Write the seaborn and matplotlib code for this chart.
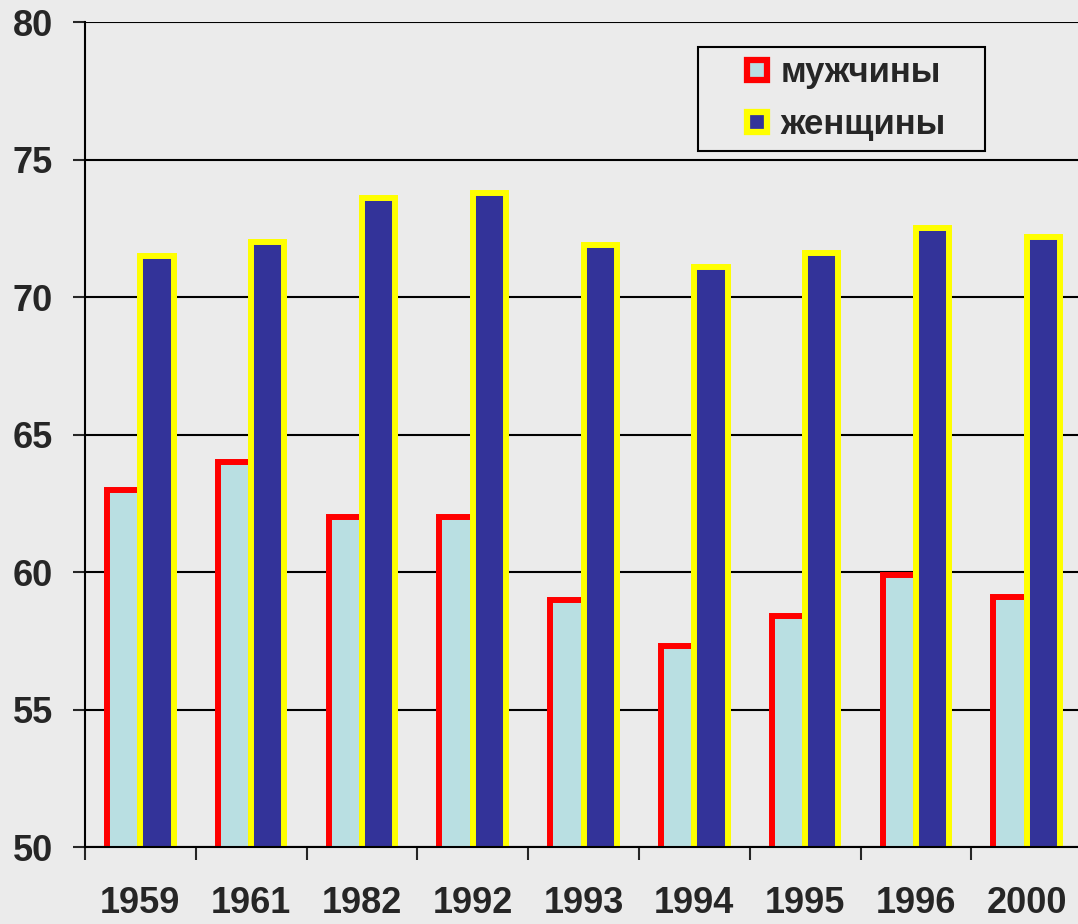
import pandas as pd
import seaborn as sns
import matplotlib.pyplot as plt
from matplotlib.lines import Line2D

# данные: ожидаемая продолжительность жизни
years = ['1959', '1961', '1982', '1992', '1993', '1994', '1995', '1996', '2000']
men = [63.0, 64.0, 62.0, 62.0, 59.0, 57.3, 58.4, 59.9, 59.1]
women = [71.5, 72.0, 73.6, 73.8, 71.9, 71.1, 71.6, 72.5, 72.2]
series_names = ['мужчины', 'женщины']
y_ticks = [50, 55, 60, 65, 70, 75, 80]

MEN_FACE, MEN_EDGE = '#b9dfe2', '#ff0000'
WOMEN_FACE, WOMEN_EDGE = '#333399', '#ffff00'
BG = '#ebebeb'

sns.set_style('white')
plt.rcParams['font.family'] = ['Liberation Sans', 'DejaVu Sans']
plt.rcParams['font.weight'] = 'bold'

df = pd.DataFrame({
    'year': years * 2,
    'sex': [series_names[0]] * len(years) + [series_names[1]] * len(years),
    'value': men + women,
})

fig = plt.figure(figsize=(10.78, 9.24), dpi=100, facecolor=BG)
ax = fig.add_axes([0.0788, 0.0833, 0.925, 0.8926])
ax.set_facecolor(BG)

sns.barplot(data=df, x='year', y='value', hue='sex', hue_order=series_names,
            palette=[MEN_FACE, WOMEN_FACE], saturation=1, width=0.6,
            errorbar=None, legend=False, linewidth=4.3, ax=ax)

for cont, ec in zip(ax.containers, [MEN_EDGE, WOMEN_EDGE]):
    for bar in cont:
        bar.set_edgecolor(ec)

ax.set_ylim(50, 80)
ax.set_xlim(-0.5, len(years) - 0.5)
ax.set_yticks(y_ticks)
ax.set_xlabel('')
ax.set_ylabel('')

ax.set_axisbelow(True)
ax.yaxis.grid(True, color='black', linewidth=1.5)
ax.xaxis.grid(False)

for s in ['top', 'right']:
    ax.spines[s].set_visible(False)
for s in ['left', 'bottom']:
    ax.spines[s].set_color('black')
    ax.spines[s].set_linewidth(1.5)

ax.tick_params(axis='y', direction='out', length=9, width=1.5, pad=14,
               labelsize=26, left=True)
ax.tick_params(axis='x', which='major', length=0, pad=28, labelsize=26)
ax.set_xticks([i - 0.5 for i in range(len(years) + 1)], minor=True)
ax.tick_params(axis='x', which='minor', direction='out', length=9, width=1.5,
               bottom=True)
for lbl in ax.get_xticklabels() + ax.get_yticklabels():
    lbl.set_fontweight('bold')

# легенда: квадратные маркеры с толстой рамкой
handles = [
    Line2D([], [], linestyle='none', marker='s', markersize=15, markeredgewidth=4.5,
           markerfacecolor=MEN_FACE, markeredgecolor=MEN_EDGE),
    Line2D([], [], linestyle='none', marker='s', markersize=15, markeredgewidth=4.5,
           markerfacecolor=WOMEN_FACE, markeredgecolor=WOMEN_EDGE),
]
leg = fig.legend(handles, series_names, loc='upper left', mode='expand',
                 bbox_to_anchor=(0.6475, 0.8355, 0.2662, 0.114),
                 bbox_transform=fig.transFigure,
                 borderaxespad=0, frameon=True, fancybox=False, framealpha=1,
                 prop={'size': 25, 'weight': 'bold'}, handlelength=2.85,
                 handletextpad=-0.75, borderpad=0.28, labelspacing=0.55)
leg.get_frame().set_edgecolor('black')
leg.get_frame().set_facecolor(BG)
leg.get_frame().set_linewidth(1.5)

fig.savefig('out.png', dpi=100, facecolor=BG)
